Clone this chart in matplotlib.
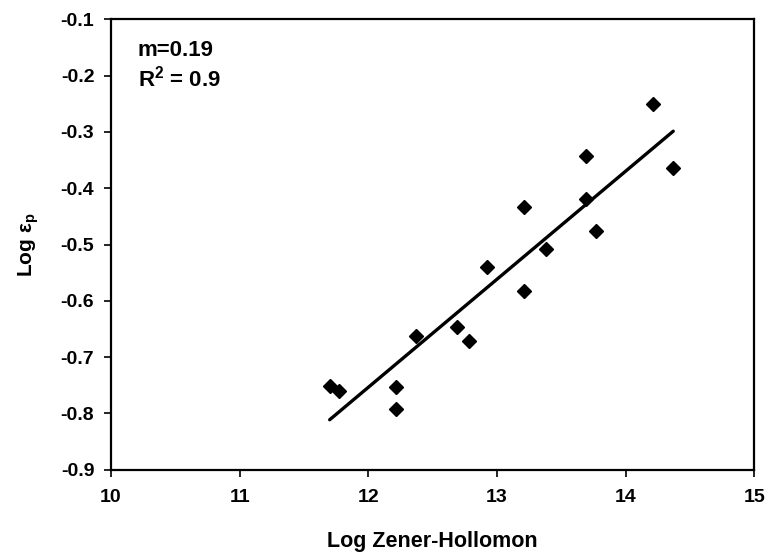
import numpy as np
import matplotlib.pyplot as plt

# data
log_z = [11.70, 11.77, 12.215, 12.215, 12.37, 12.69, 12.78, 12.92,
         13.21, 13.21, 13.38, 13.69, 13.69, 13.77, 14.21, 14.37]
log_ep = [-0.751, -0.760, -0.753, -0.792, -0.662, -0.646, -0.671, -0.539,
          -0.433, -0.582, -0.508, -0.343, -0.419, -0.476, -0.250, -0.364]
xticks = [10, 11, 12, 13, 14, 15]
yticks = [-0.9, -0.8, -0.7, -0.6, -0.5, -0.4, -0.3, -0.2, -0.1]

plt.rcParams['font.family'] = ['Liberation Sans', 'DejaVu Sans']
plt.rcParams['font.weight'] = 'bold'
plt.rcParams['mathtext.fontset'] = 'custom'
plt.rcParams['mathtext.rm'] = 'Liberation Sans:bold'
plt.rcParams['mathtext.it'] = 'Liberation Sans:bold'
plt.rcParams['mathtext.bf'] = 'Liberation Sans:bold'

fig = plt.figure(figsize=(7.65, 5.54), dpi=100)
ax = fig.add_axes([0.145, 0.152, 0.841, 0.813])

x = np.array(log_z)
y = np.array(log_ep)
ax.plot(x, y, 'D', color='black', markersize=7, zorder=3)

# linear trend line
m, b = np.polyfit(x, y, 1)
xl = np.array([x.min(), x.max()])
ax.plot(xl, m * xl + b, color='black', lw=2.4, solid_capstyle='round')

ax.set_xlim(10, 15)
ax.set_ylim(-0.9, -0.1)
ax.set_xticks(xticks)
ax.set_yticks(yticks)
ax.set_xticklabels([str(t) for t in xticks])
ax.set_yticklabels(['%.1f' % t for t in yticks])
ax.tick_params(direction='out', length=5, width=1.2, labelsize=14)
ax.tick_params(axis='x', pad=9)
ax.tick_params(axis='y', pad=7)
for lab in ax.get_xticklabels() + ax.get_yticklabels():
    lab.set_fontweight('bold')
for s in ax.spines.values():
    s.set_linewidth(1.6)

ax.set_xlabel('Log Zener-Hollomon', fontsize=15.5, fontweight='bold', labelpad=18)
ax.set_ylabel(r'Log $\mathregular{\varepsilon_p}$', fontsize=15, fontweight='bold', labelpad=14)

ax.text(0.042, 0.918, 'm=0.19', transform=ax.transAxes, fontsize=16,
        fontweight='bold', va='baseline')
ax.text(0.042, 0.85, 'R$^2$ = 0.9', transform=ax.transAxes, fontsize=16,
        fontweight='bold', va='baseline')

fig.savefig('out.png', dpi=100)
